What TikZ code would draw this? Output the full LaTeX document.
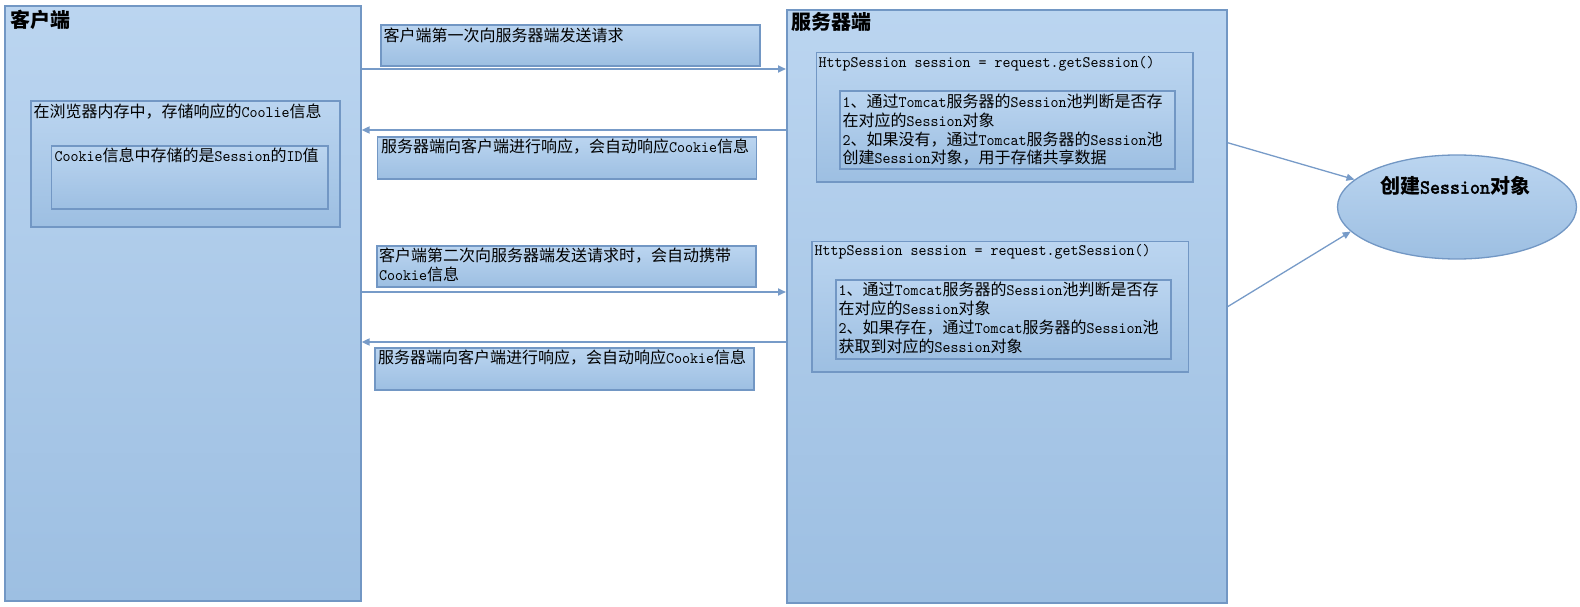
\documentclass[tikz,border=0pt]{standalone}
\usepackage{fontspec}
\setmainfont{Noto Sans CJK SC}
\newfontfamily\latf{lmmono10-regular.otf}[FakeStretch=0.952]
\newfontfamily\latb{lmmono10-regular.otf}[FakeStretch=0.952, FakeBold=2.5]
\newcommand\La[1]{{\latf #1}}
\newcommand\Lb[1]{{\latb #1}}
\usetikzlibrary{arrows.meta,shapes.geometric}
\definecolor{topc}{RGB}{187,213,240}
\definecolor{botc}{RGB}{157,191,226}
\definecolor{bordc}{RGB}{114,151,196}
\definecolor{linec}{RGB}{119,155,200}
\tikzset{
  box/.style={draw=bordc, line width=1.6pt, top color=topc, bottom color=botc, anchor=north west, inner sep=0pt},
  lbl/.style={inner sep=0pt, font=\fontsize{16}{18.8}\selectfont, align=left, text=black},
  ttl/.style={inner sep=0pt, font=\fontsize{20}{22}\selectfont\bfseries, anchor=west},
  arr/.style={draw=linec, line width=1.7pt, -{Triangle[length=8pt,width=7pt]}},
  darr/.style={draw=linec, line width=1.3pt, -{Triangle[length=8pt,width=7pt]}}
}
\begin{document}
\begin{tikzpicture}[x=1pt,y=-1pt]
\useasboundingbox (0,0) rectangle (1580,607);
% main containers
\node[box, minimum width=356pt, minimum height=595pt] (client) at (4,5) {};
\node[box, minimum width=440pt, minimum height=593pt] (server) at (786,9) {};
\node[ttl] (clientt) at (10,20) {客户端};
\node[ttl] (servert) at (791,22) {服务器端};
% message boxes
\node[box, minimum width=379pt, minimum height=41pt] (b1) at (380,24) {};
\node[box, minimum width=379pt, minimum height=42pt] (b2) at (376.5,136) {};
\node[box, minimum width=379pt, minimum height=41pt] (b3) at (376,245) {};
\node[box, minimum width=379pt, minimum height=42pt] (b4) at (374,347) {};
\node[lbl, anchor=west] (b1t) at (383.5,35) {客户端第一次向服务器端发送请求};
\node[lbl, anchor=west] (b2t) at (381,147) {服务器端向客户端进行响应，会自动响应\La{Cookie}信息};
\node[lbl, anchor=north west] (b3t) at (379,248) {客户端第二次向服务器端发送请求时，会自动携带\\\La{Cookie}信息};
\node[lbl, anchor=west] (b4t) at (378,358) {服务器端向客户端进行响应，会自动响应\La{Cookie}信息};
% client inner boxes
\node[box, minimum width=309pt, minimum height=126pt] (browser) at (30,100) {};
\node[box, minimum width=276.5pt, minimum height=63pt] (cookie) at (50.5,145) {};
\node[lbl, anchor=west] (browsert) at (33.5,112) {在浏览器内存中，存储响应的\La{Coolie}信息};
\node[lbl, anchor=west] (cookiet) at (54.5,155) {\La{Cookie}信息中存储的是\La{Session}的\La{ID}值};
% server inner boxes
\node[box, minimum width=376.5pt, minimum height=129.3pt] (s1) at (815.5,51.7) {};
\node[box, minimum width=335pt, minimum height=78pt] (s1i) at (839,90) {};
\node[box, minimum width=376.5pt, minimum height=130.6pt] (s2) at (811,240.7) {};
\node[box, minimum width=335pt, minimum height=78.7pt] (s2i) at (835,279.3) {};
\node[lbl, anchor=west] (s1t) at (818.5,63.3) {\La{HttpSession session = request.getSession()}};
\node[lbl, anchor=north west] (s1it) at (842.5,93.7) {\La{1}、通过\La{Tomcat}服务器的\La{Session}池判断是否存\\在对应的\La{Session}对象\\\La{2}、如果没有，通过\La{Tomcat}服务器的\La{Session}池\\创建\La{Session}对象，用于存储共享数据};
\node[lbl, anchor=west] (s2t) at (814.5,252) {\La{HttpSession session = request.getSession()}};
\node[lbl, anchor=north west] (s2it) at (838.5,282) {\La{1}、通过\La{Tomcat}服务器的\La{Session}池判断是否存\\在对应的\La{Session}对象\\\La{2}、如果存在，通过\La{Tomcat}服务器的\La{Session}池\\获取到对应的\La{Session}对象};
% ellipse
\node[ellipse, draw=bordc, line width=1.3pt, top color=topc, bottom color=botc, minimum width=239pt, minimum height=104pt, inner sep=0pt] (ell) at (1457,207) {};
\node[inner sep=0pt, font=\fontsize{20}{22}\selectfont\bfseries] (ellt) at (1455,186) {创建\Lb{Session}对象};
% connectors
\draw[arr] (client.east |- 0,69) -- (server.west |- 0,69);
\draw[arr] (server.west |- 0,130) -- (client.east |- 0,130);
\draw[arr] (client.east |- 0,292) -- (server.west |- 0,292);
\draw[arr] (server.west |- 0,342) -- (client.east |- 0,342);
\draw[darr] (server.east |- 0,142.7) -- (ell.165.7);
\draw[darr] (server.east |- 0,306.7) -- (ell.193.5);
\end{tikzpicture}
\end{document}
